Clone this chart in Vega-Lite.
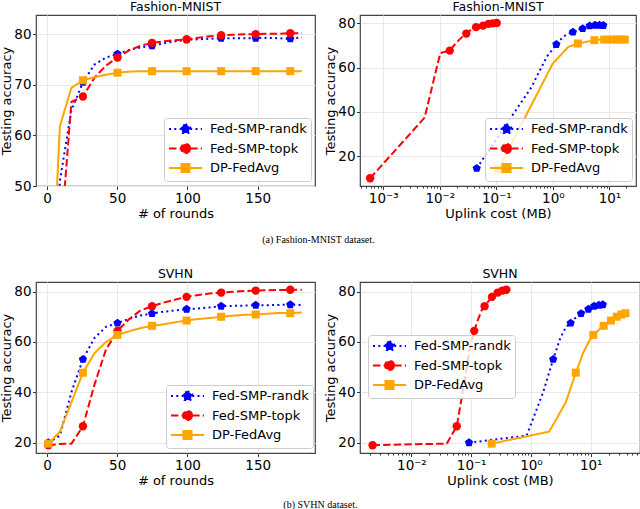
{
  "$schema": "https://vega.github.io/schema/vega-lite/v6.json",
  "background": "white",
  "padding": {"left": 0, "top": 0, "right": 0, "bottom": 0},
  "datasets": {
    "pts": [
      {"ds":"F","m":"Fed-SMP-randk","r":1,"c":0.045,"a":14.5,"k":1},
      {"ds":"F","m":"Fed-SMP-randk","r":9.2,"c":0.414,"a":51,"k":0},
      {"ds":"F","m":"Fed-SMP-randk","r":17.4,"c":0.783,"a":65,"k":0},
      {"ds":"F","m":"Fed-SMP-randk","r":25.6,"c":1.152,"a":70.5,"k":1},
      {"ds":"F","m":"Fed-SMP-randk","r":33.8,"c":1.521,"a":74,"k":0},
      {"ds":"F","m":"Fed-SMP-randk","r":42,"c":1.89,"a":75.4,"k":0},
      {"ds":"F","m":"Fed-SMP-randk","r":50.2,"c":2.259,"a":76.1,"k":1},
      {"ds":"F","m":"Fed-SMP-randk","r":58.4,"c":2.628,"a":76.9,"k":0},
      {"ds":"F","m":"Fed-SMP-randk","r":66.6,"c":2.997,"a":77.4,"k":0},
      {"ds":"F","m":"Fed-SMP-randk","r":74.8,"c":3.366,"a":77.7,"k":1},
      {"ds":"F","m":"Fed-SMP-randk","r":83,"c":3.735,"a":78.2,"k":0},
      {"ds":"F","m":"Fed-SMP-randk","r":91.2,"c":4.104,"a":78.6,"k":0},
      {"ds":"F","m":"Fed-SMP-randk","r":99.4,"c":4.473,"a":78.9,"k":1},
      {"ds":"F","m":"Fed-SMP-randk","r":107.6,"c":4.842,"a":79.0,"k":0},
      {"ds":"F","m":"Fed-SMP-randk","r":115.8,"c":5.211,"a":79.1,"k":0},
      {"ds":"F","m":"Fed-SMP-randk","r":124,"c":5.58,"a":79.2,"k":1},
      {"ds":"F","m":"Fed-SMP-randk","r":132.2,"c":5.949,"a":79.2,"k":0},
      {"ds":"F","m":"Fed-SMP-randk","r":140.4,"c":6.318,"a":79.2,"k":0},
      {"ds":"F","m":"Fed-SMP-randk","r":148.6,"c":6.687,"a":79.2,"k":1},
      {"ds":"F","m":"Fed-SMP-randk","r":156.8,"c":7.056,"a":79.3,"k":0},
      {"ds":"F","m":"Fed-SMP-randk","r":165,"c":7.425,"a":79.2,"k":0},
      {"ds":"F","m":"Fed-SMP-randk","r":173.2,"c":7.794,"a":79.1,"k":1},
      {"ds":"F","m":"Fed-SMP-randk","r":181.4,"c":8.163,"a":79.4,"k":0},

      {"ds":"F","m":"Fed-SMP-topk","r":1,"c":0.000587,"a":10,"k":1},
      {"ds":"F","m":"Fed-SMP-topk","r":9.2,"c":0.0054,"a":37.4,"k":0},
      {"ds":"F","m":"Fed-SMP-topk","r":17.4,"c":0.01021,"a":66.6,"k":0},
      {"ds":"F","m":"Fed-SMP-topk","r":25.6,"c":0.01503,"a":67.7,"k":1},
      {"ds":"F","m":"Fed-SMP-topk","r":33.8,"c":0.01984,"a":71.4,"k":0},
      {"ds":"F","m":"Fed-SMP-topk","r":42,"c":0.02465,"a":73.8,"k":0},
      {"ds":"F","m":"Fed-SMP-topk","r":50.2,"c":0.02947,"a":75.4,"k":1},
      {"ds":"F","m":"Fed-SMP-topk","r":58.4,"c":0.03428,"a":76.8,"k":0},
      {"ds":"F","m":"Fed-SMP-topk","r":66.6,"c":0.03909,"a":77.7,"k":0},
      {"ds":"F","m":"Fed-SMP-topk","r":74.8,"c":0.04391,"a":78.3,"k":1},
      {"ds":"F","m":"Fed-SMP-topk","r":83,"c":0.04872,"a":78.6,"k":0},
      {"ds":"F","m":"Fed-SMP-topk","r":91.2,"c":0.05353,"a":78.8,"k":0},
      {"ds":"F","m":"Fed-SMP-topk","r":99.4,"c":0.05835,"a":79.0,"k":1},
      {"ds":"F","m":"Fed-SMP-topk","r":107.6,"c":0.06316,"a":79.3,"k":0},
      {"ds":"F","m":"Fed-SMP-topk","r":115.8,"c":0.06797,"a":79.6,"k":0},
      {"ds":"F","m":"Fed-SMP-topk","r":124,"c":0.07279,"a":79.8,"k":1},
      {"ds":"F","m":"Fed-SMP-topk","r":132.2,"c":0.0776,"a":79.9,"k":0},
      {"ds":"F","m":"Fed-SMP-topk","r":140.4,"c":0.08241,"a":80.0,"k":0},
      {"ds":"F","m":"Fed-SMP-topk","r":148.6,"c":0.08723,"a":80.0,"k":1},
      {"ds":"F","m":"Fed-SMP-topk","r":156.8,"c":0.09204,"a":80.1,"k":0},
      {"ds":"F","m":"Fed-SMP-topk","r":165,"c":0.09686,"a":80.1,"k":0},
      {"ds":"F","m":"Fed-SMP-topk","r":173.2,"c":0.10167,"a":80.2,"k":1},
      {"ds":"F","m":"Fed-SMP-topk","r":181.4,"c":0.10648,"a":80.2,"k":0},

      {"ds":"F","m":"DP-FedAvg","r":1,"c":0.108,"a":14,"k":1},
      {"ds":"F","m":"DP-FedAvg","r":9.2,"c":0.9936,"a":61.8,"k":0},
      {"ds":"F","m":"DP-FedAvg","r":17.4,"c":1.879,"a":69.4,"k":0},
      {"ds":"F","m":"DP-FedAvg","r":25.6,"c":2.765,"a":70.9,"k":1},
      {"ds":"F","m":"DP-FedAvg","r":33.8,"c":3.65,"a":71.5,"k":0},
      {"ds":"F","m":"DP-FedAvg","r":42,"c":4.536,"a":72.0,"k":0},
      {"ds":"F","m":"DP-FedAvg","r":50.2,"c":5.422,"a":72.4,"k":1},
      {"ds":"F","m":"DP-FedAvg","r":58.4,"c":6.307,"a":72.6,"k":0},
      {"ds":"F","m":"DP-FedAvg","r":66.6,"c":7.193,"a":72.7,"k":0},
      {"ds":"F","m":"DP-FedAvg","r":74.8,"c":8.078,"a":72.7,"k":1},
      {"ds":"F","m":"DP-FedAvg","r":83,"c":8.964,"a":72.7,"k":0},
      {"ds":"F","m":"DP-FedAvg","r":91.2,"c":9.85,"a":72.7,"k":0},
      {"ds":"F","m":"DP-FedAvg","r":99.4,"c":10.735,"a":72.7,"k":1},
      {"ds":"F","m":"DP-FedAvg","r":107.6,"c":11.621,"a":72.7,"k":0},
      {"ds":"F","m":"DP-FedAvg","r":115.8,"c":12.506,"a":72.7,"k":0},
      {"ds":"F","m":"DP-FedAvg","r":124,"c":13.392,"a":72.7,"k":1},
      {"ds":"F","m":"DP-FedAvg","r":132.2,"c":14.278,"a":72.7,"k":0},
      {"ds":"F","m":"DP-FedAvg","r":140.4,"c":15.163,"a":72.7,"k":0},
      {"ds":"F","m":"DP-FedAvg","r":148.6,"c":16.049,"a":72.7,"k":1},
      {"ds":"F","m":"DP-FedAvg","r":156.8,"c":16.934,"a":72.7,"k":0},
      {"ds":"F","m":"DP-FedAvg","r":165,"c":17.82,"a":72.7,"k":0},
      {"ds":"F","m":"DP-FedAvg","r":173.2,"c":18.706,"a":72.7,"k":1},
      {"ds":"F","m":"DP-FedAvg","r":181.4,"c":19.591,"a":72.7,"k":0},

      {"ds":"S","m":"Fed-SMP-randk","r":1,"c":0.092,"a":20,"k":1},
      {"ds":"S","m":"Fed-SMP-randk","r":9.2,"c":0.8464,"a":22.8,"k":0},
      {"ds":"S","m":"Fed-SMP-randk","r":17.4,"c":1.6008,"a":40,"k":0},
      {"ds":"S","m":"Fed-SMP-randk","r":25.6,"c":2.3552,"a":53.1,"k":1},
      {"ds":"S","m":"Fed-SMP-randk","r":33.8,"c":3.1096,"a":61.6,"k":0},
      {"ds":"S","m":"Fed-SMP-randk","r":42,"c":3.864,"a":66,"k":0},
      {"ds":"S","m":"Fed-SMP-randk","r":50.2,"c":4.6184,"a":67.5,"k":1},
      {"ds":"S","m":"Fed-SMP-randk","r":58.4,"c":5.3728,"a":69.2,"k":0},
      {"ds":"S","m":"Fed-SMP-randk","r":66.6,"c":6.1272,"a":70.5,"k":0},
      {"ds":"S","m":"Fed-SMP-randk","r":74.8,"c":6.8816,"a":71.3,"k":1},
      {"ds":"S","m":"Fed-SMP-randk","r":83,"c":7.636,"a":72,"k":0},
      {"ds":"S","m":"Fed-SMP-randk","r":91.2,"c":8.3904,"a":72.5,"k":0},
      {"ds":"S","m":"Fed-SMP-randk","r":99.4,"c":9.1448,"a":73.0,"k":1},
      {"ds":"S","m":"Fed-SMP-randk","r":107.6,"c":9.8992,"a":73.3,"k":0},
      {"ds":"S","m":"Fed-SMP-randk","r":115.8,"c":10.6536,"a":73.7,"k":0},
      {"ds":"S","m":"Fed-SMP-randk","r":124,"c":11.408,"a":74.2,"k":1},
      {"ds":"S","m":"Fed-SMP-randk","r":132.2,"c":12.1624,"a":74.3,"k":0},
      {"ds":"S","m":"Fed-SMP-randk","r":140.4,"c":12.9168,"a":74.4,"k":0},
      {"ds":"S","m":"Fed-SMP-randk","r":148.6,"c":13.6712,"a":74.6,"k":1},
      {"ds":"S","m":"Fed-SMP-randk","r":156.8,"c":14.4256,"a":74.6,"k":0},
      {"ds":"S","m":"Fed-SMP-randk","r":165,"c":15.18,"a":74.7,"k":0},
      {"ds":"S","m":"Fed-SMP-randk","r":173.2,"c":15.9344,"a":74.8,"k":1},
      {"ds":"S","m":"Fed-SMP-randk","r":181.4,"c":16.6888,"a":74.7,"k":0},

      {"ds":"S","m":"Fed-SMP-topk","r":1,"c":0.00224,"a":19,"k":1},
      {"ds":"S","m":"Fed-SMP-topk","r":9.2,"c":0.020608,"a":19.5,"k":0},
      {"ds":"S","m":"Fed-SMP-topk","r":17.4,"c":0.038976,"a":19.6,"k":0},
      {"ds":"S","m":"Fed-SMP-topk","r":25.6,"c":0.057344,"a":26.5,"k":1},
      {"ds":"S","m":"Fed-SMP-topk","r":33.8,"c":0.075712,"a":43,"k":0},
      {"ds":"S","m":"Fed-SMP-topk","r":42,"c":0.09408,"a":57,"k":0},
      {"ds":"S","m":"Fed-SMP-topk","r":50.2,"c":0.112448,"a":64.4,"k":1},
      {"ds":"S","m":"Fed-SMP-topk","r":58.4,"c":0.130816,"a":69,"k":0},
      {"ds":"S","m":"Fed-SMP-topk","r":66.6,"c":0.149184,"a":72.5,"k":0},
      {"ds":"S","m":"Fed-SMP-topk","r":74.8,"c":0.167552,"a":74.2,"k":1},
      {"ds":"S","m":"Fed-SMP-topk","r":83,"c":0.18592,"a":75.6,"k":0},
      {"ds":"S","m":"Fed-SMP-topk","r":91.2,"c":0.204288,"a":76.8,"k":0},
      {"ds":"S","m":"Fed-SMP-topk","r":99.4,"c":0.222656,"a":77.9,"k":1},
      {"ds":"S","m":"Fed-SMP-topk","r":107.6,"c":0.241024,"a":78.6,"k":0},
      {"ds":"S","m":"Fed-SMP-topk","r":115.8,"c":0.259392,"a":79.2,"k":0},
      {"ds":"S","m":"Fed-SMP-topk","r":124,"c":0.27776,"a":79.6,"k":1},
      {"ds":"S","m":"Fed-SMP-topk","r":132.2,"c":0.296128,"a":79.9,"k":0},
      {"ds":"S","m":"Fed-SMP-topk","r":140.4,"c":0.314496,"a":80.2,"k":0},
      {"ds":"S","m":"Fed-SMP-topk","r":148.6,"c":0.332864,"a":80.4,"k":1},
      {"ds":"S","m":"Fed-SMP-topk","r":156.8,"c":0.351232,"a":80.5,"k":0},
      {"ds":"S","m":"Fed-SMP-topk","r":165,"c":0.3696,"a":80.6,"k":0},
      {"ds":"S","m":"Fed-SMP-topk","r":173.2,"c":0.387968,"a":80.7,"k":1},
      {"ds":"S","m":"Fed-SMP-topk","r":181.4,"c":0.406336,"a":80.7,"k":0},

      {"ds":"S","m":"DP-FedAvg","r":1,"c":0.22,"a":19.6,"k":1},
      {"ds":"S","m":"DP-FedAvg","r":9.2,"c":2.024,"a":24.4,"k":0},
      {"ds":"S","m":"DP-FedAvg","r":17.4,"c":3.828,"a":36,"k":0},
      {"ds":"S","m":"DP-FedAvg","r":25.6,"c":5.632,"a":47.8,"k":1},
      {"ds":"S","m":"DP-FedAvg","r":33.8,"c":7.436,"a":55.5,"k":0},
      {"ds":"S","m":"DP-FedAvg","r":42,"c":9.24,"a":60,"k":0},
      {"ds":"S","m":"DP-FedAvg","r":50.2,"c":11.044,"a":62.8,"k":1},
      {"ds":"S","m":"DP-FedAvg","r":58.4,"c":12.848,"a":64.2,"k":0},
      {"ds":"S","m":"DP-FedAvg","r":66.6,"c":14.652,"a":65.5,"k":0},
      {"ds":"S","m":"DP-FedAvg","r":74.8,"c":16.456,"a":66.4,"k":1},
      {"ds":"S","m":"DP-FedAvg","r":83,"c":18.26,"a":67,"k":0},
      {"ds":"S","m":"DP-FedAvg","r":91.2,"c":20.064,"a":67.8,"k":0},
      {"ds":"S","m":"DP-FedAvg","r":99.4,"c":21.868,"a":68.5,"k":1},
      {"ds":"S","m":"DP-FedAvg","r":107.6,"c":23.672,"a":69.1,"k":0},
      {"ds":"S","m":"DP-FedAvg","r":115.8,"c":25.476,"a":69.5,"k":0},
      {"ds":"S","m":"DP-FedAvg","r":124,"c":27.28,"a":70,"k":1},
      {"ds":"S","m":"DP-FedAvg","r":132.2,"c":29.084,"a":70.4,"k":0},
      {"ds":"S","m":"DP-FedAvg","r":140.4,"c":30.888,"a":70.8,"k":0},
      {"ds":"S","m":"DP-FedAvg","r":148.6,"c":32.692,"a":70.9,"k":1},
      {"ds":"S","m":"DP-FedAvg","r":156.8,"c":34.496,"a":71.2,"k":0},
      {"ds":"S","m":"DP-FedAvg","r":165,"c":36.3,"a":71.5,"k":0},
      {"ds":"S","m":"DP-FedAvg","r":173.2,"c":38.104,"a":71.4,"k":1},
      {"ds":"S","m":"DP-FedAvg","r":181.4,"c":39.908,"a":71.7,"k":0}
    ]
  },
  "data": {"name": "pts"},
  "spacing": 21,
  "resolve": {"scale": {"color": "independent", "strokeDash": "independent"}},
  "vconcat": [
    {
      "spacing": 8,
      "resolve": {"scale": {"color": "independent", "strokeDash": "independent"}},
      "title": {"text": "(a) Fashion-MNIST dataset.", "orient": "bottom", "anchor": "middle", "font": "Liberation Serif", "fontSize": 10, "fontWeight": "normal", "offset": 14},
      "hconcat": [
        {
          "width": 279, "height": 171,
          "title": "Fashion-MNIST",
          "transform": [{"filter": "datum.ds == 'F'"}],
          "encoding": {
            "x": {"field": "r", "type": "quantitative", "scale": {"domain": [-7.8, 190.8], "nice": false, "zero": false}, "axis": {"values": [0, 50, 100, 150], "title": "# of rounds"}},
            "y": {"field": "a", "type": "quantitative", "scale": {"domain": [50, 83.8], "nice": false, "zero": false}, "axis": {"values": [50, 60, 70, 80], "title": "Testing accuracy"}},
            "color": {"field": "m", "type": "nominal", "scale": {"domain": ["Fed-SMP-randk", "Fed-SMP-topk", "DP-FedAvg"], "range": ["blue", "red", "orange"]},
              "legend": {"orient": "none", "legendX": 128, "legendY": 103, "title": null,
                "encode": {"symbols": {"update": {
                  "shape": {"signal": "datum.value === 'Fed-SMP-randk' ? 'M-1,0L4.5,0M1.75,-0.833L2.542,-0.257L2.24,0.674L1.26,0.674L0.958,-0.257Z' : datum.value === 'Fed-SMP-topk' ? 'M-1,0L4.5,0M2.5,0A0.75,0.75,0,1,1,1,0A0.75,0.75,0,1,1,2.5,0Z' : 'M-1,0L4.5,0M1.083,-0.667L2.417,-0.667L2.417,0.667L1.083,0.667Z'"}
                }}}}},
            "strokeDash": {"field": "m", "type": "nominal", "scale": {"domain": ["Fed-SMP-randk", "Fed-SMP-topk", "DP-FedAvg"], "range": [[2, 3.3], [7.4, 3.2], [1, 0]]}}
          },
          "layer": [
            {"mark": {"type": "line", "strokeWidth": 2, "clip": true}},
            {"transform": [{"filter": "datum.k == 1 && datum.m == 'Fed-SMP-randk'"}], "mark": {"type": "point", "shape": "M0,-1L0.951,-0.309L0.588,0.809L-0.588,0.809L-0.951,-0.309Z", "filled": true, "opacity": 1, "size": 75, "clip": true}},
            {"transform": [{"filter": "datum.k == 1 && datum.m == 'Fed-SMP-topk'"}], "mark": {"type": "point", "shape": "circle", "filled": true, "opacity": 1, "size": 70, "clip": true}},
            {"transform": [{"filter": "datum.k == 1 && datum.m == 'DP-FedAvg'"}], "mark": {"type": "point", "shape": "square", "filled": true, "opacity": 1, "size": 64, "clip": true}}
          ]
        },
        {
          "width": 276, "height": 171,
          "title": "Fashion-MNIST",
          "transform": [{"filter": "datum.ds == 'F'"}],
          "encoding": {
            "x": {"field": "c", "type": "quantitative", "scale": {"type": "log", "domain": [0.000389, 29.5], "nice": false},
              "axis": {"title": "Uplink cost (MB)", "labelOverlap": false,
                "values": [0.0004, 0.0005, 0.0006, 0.0007, 0.0008, 0.0009, 0.001, 0.002, 0.003, 0.004, 0.005, 0.006, 0.007, 0.008, 0.009, 0.01, 0.02, 0.03, 0.04, 0.05, 0.06, 0.07, 0.08, 0.09, 0.1, 0.2, 0.3, 0.4, 0.5, 0.6, 0.7, 0.8, 0.9, 1, 2, 3, 4, 5, 6, 7, 8, 9, 10, 20],
                "labelExpr": "datum.value == 0.001 ? '10⁻³' : datum.value == 0.01 ? '10⁻²' : datum.value == 0.1 ? '10⁻¹' : datum.value == 1 ? '10⁰' : datum.value == 10 ? '10¹' : ''",
                "tickSize": {"condition": {"test": "datum.value == 0.001 || datum.value == 0.01 || datum.value == 0.1 || datum.value == 1 || datum.value == 10", "value": 3.5}, "value": 2},
                "gridOpacity": {"condition": {"test": "datum.value == 0.001 || datum.value == 0.01 || datum.value == 0.1 || datum.value == 1 || datum.value == 10", "value": 1}, "value": 0}}},
            "y": {"field": "a", "type": "quantitative", "scale": {"domain": [6.5, 83.8], "nice": false, "zero": false}, "axis": {"values": [20, 40, 60, 80], "title": "Testing accuracy"}},
            "color": {"field": "m", "type": "nominal", "scale": {"domain": ["Fed-SMP-randk", "Fed-SMP-topk", "DP-FedAvg"], "range": ["blue", "red", "orange"]},
              "legend": {"orient": "none", "legendX": 125, "legendY": 103, "title": null,
                "encode": {"symbols": {"update": {
                  "shape": {"signal": "datum.value === 'Fed-SMP-randk' ? 'M-1,0L4.5,0M1.75,-0.833L2.542,-0.257L2.24,0.674L1.26,0.674L0.958,-0.257Z' : datum.value === 'Fed-SMP-topk' ? 'M-1,0L4.5,0M2.5,0A0.75,0.75,0,1,1,1,0A0.75,0.75,0,1,1,2.5,0Z' : 'M-1,0L4.5,0M1.083,-0.667L2.417,-0.667L2.417,0.667L1.083,0.667Z'"}
                }}}}},
            "strokeDash": {"field": "m", "type": "nominal", "scale": {"domain": ["Fed-SMP-randk", "Fed-SMP-topk", "DP-FedAvg"], "range": [[2, 3.3], [7.4, 3.2], [1, 0]]}}
          },
          "layer": [
            {"mark": {"type": "line", "strokeWidth": 2, "clip": true}},
            {"transform": [{"filter": "datum.k == 1 && datum.m == 'Fed-SMP-randk'"}], "mark": {"type": "point", "shape": "M0,-1L0.951,-0.309L0.588,0.809L-0.588,0.809L-0.951,-0.309Z", "filled": true, "opacity": 1, "size": 75, "clip": true}},
            {"transform": [{"filter": "datum.k == 1 && datum.m == 'Fed-SMP-topk'"}], "mark": {"type": "point", "shape": "circle", "filled": true, "opacity": 1, "size": 70, "clip": true}},
            {"transform": [{"filter": "datum.k == 1 && datum.m == 'DP-FedAvg'"}], "mark": {"type": "point", "shape": "square", "filled": true, "opacity": 1, "size": 64, "clip": true}}
          ]
        }
      ]
    },
    {
      "spacing": 8,
      "resolve": {"scale": {"color": "independent", "strokeDash": "independent"}},
      "title": {"text": "(b) SVHN dataset.", "orient": "bottom", "anchor": "middle", "font": "Liberation Serif", "fontSize": 10, "fontWeight": "normal", "offset": 12},
      "hconcat": [
        {
          "width": 279, "height": 171,
          "title": "SVHN",
          "transform": [{"filter": "datum.ds == 'S'"}],
          "encoding": {
            "x": {"field": "r", "type": "quantitative", "scale": {"domain": [-7.8, 190.8], "nice": false, "zero": false}, "axis": {"values": [0, 50, 100, 150], "title": "# of rounds"}},
            "y": {"field": "a", "type": "quantitative", "scale": {"domain": [15.9, 83.8], "nice": false, "zero": false}, "axis": {"values": [20, 40, 60, 80], "title": "Testing accuracy"}},
            "color": {"field": "m", "type": "nominal", "scale": {"domain": ["Fed-SMP-randk", "Fed-SMP-topk", "DP-FedAvg"], "range": ["blue", "red", "orange"]},
              "legend": {"orient": "none", "legendX": 130, "legendY": 103, "title": null,
                "encode": {"symbols": {"update": {
                  "shape": {"signal": "datum.value === 'Fed-SMP-randk' ? 'M-1,0L4.5,0M1.75,-0.833L2.542,-0.257L2.24,0.674L1.26,0.674L0.958,-0.257Z' : datum.value === 'Fed-SMP-topk' ? 'M-1,0L4.5,0M2.5,0A0.75,0.75,0,1,1,1,0A0.75,0.75,0,1,1,2.5,0Z' : 'M-1,0L4.5,0M1.083,-0.667L2.417,-0.667L2.417,0.667L1.083,0.667Z'"}
                }}}}},
            "strokeDash": {"field": "m", "type": "nominal", "scale": {"domain": ["Fed-SMP-randk", "Fed-SMP-topk", "DP-FedAvg"], "range": [[2, 3.3], [7.4, 3.2], [1, 0]]}}
          },
          "layer": [
            {"mark": {"type": "line", "strokeWidth": 2, "clip": true}},
            {"transform": [{"filter": "datum.k == 1 && datum.m == 'Fed-SMP-randk'"}], "mark": {"type": "point", "shape": "M0,-1L0.951,-0.309L0.588,0.809L-0.588,0.809L-0.951,-0.309Z", "filled": true, "opacity": 1, "size": 75, "clip": true}},
            {"transform": [{"filter": "datum.k == 1 && datum.m == 'Fed-SMP-topk'"}], "mark": {"type": "point", "shape": "circle", "filled": true, "opacity": 1, "size": 70, "clip": true}},
            {"transform": [{"filter": "datum.k == 1 && datum.m == 'DP-FedAvg'"}], "mark": {"type": "point", "shape": "square", "filled": true, "opacity": 1, "size": 64, "clip": true}}
          ]
        },
        {
          "width": 280, "height": 171,
          "title": "SVHN",
          "transform": [{"filter": "datum.ds == 'S'"}],
          "encoding": {
            "x": {"field": "c", "type": "quantitative", "scale": {"type": "log", "domain": [0.00138, 66.8], "nice": false},
              "axis": {"title": "Uplink cost (MB)", "labelOverlap": false,
                "values": [0.002, 0.003, 0.004, 0.005, 0.006, 0.007, 0.008, 0.009, 0.01, 0.02, 0.03, 0.04, 0.05, 0.06, 0.07, 0.08, 0.09, 0.1, 0.2, 0.3, 0.4, 0.5, 0.6, 0.7, 0.8, 0.9, 1, 2, 3, 4, 5, 6, 7, 8, 9, 10, 20, 30, 40, 50, 60],
                "labelExpr": "datum.value == 0.01 ? '10⁻²' : datum.value == 0.1 ? '10⁻¹' : datum.value == 1 ? '10⁰' : datum.value == 10 ? '10¹' : ''",
                "tickSize": {"condition": {"test": "datum.value == 0.01 || datum.value == 0.1 || datum.value == 1 || datum.value == 10", "value": 3.5}, "value": 2},
                "gridOpacity": {"condition": {"test": "datum.value == 0.01 || datum.value == 0.1 || datum.value == 1 || datum.value == 10", "value": 1}, "value": 0}}},
            "y": {"field": "a", "type": "quantitative", "scale": {"domain": [15.9, 83.8], "nice": false, "zero": false}, "axis": {"values": [20, 40, 60, 80], "title": "Testing accuracy"}},
            "color": {"field": "m", "type": "nominal", "scale": {"domain": ["Fed-SMP-randk", "Fed-SMP-topk", "DP-FedAvg"], "range": ["blue", "red", "orange"]},
              "legend": {"orient": "none", "legendX": 8, "legendY": 53, "title": null,
                "encode": {"symbols": {"update": {
                  "shape": {"signal": "datum.value === 'Fed-SMP-randk' ? 'M-1,0L4.5,0M1.75,-0.833L2.542,-0.257L2.24,0.674L1.26,0.674L0.958,-0.257Z' : datum.value === 'Fed-SMP-topk' ? 'M-1,0L4.5,0M2.5,0A0.75,0.75,0,1,1,1,0A0.75,0.75,0,1,1,2.5,0Z' : 'M-1,0L4.5,0M1.083,-0.667L2.417,-0.667L2.417,0.667L1.083,0.667Z'"}
                }}}}},
            "strokeDash": {"field": "m", "type": "nominal", "scale": {"domain": ["Fed-SMP-randk", "Fed-SMP-topk", "DP-FedAvg"], "range": [[2, 3.3], [7.4, 3.2], [1, 0]]}}
          },
          "layer": [
            {"mark": {"type": "line", "strokeWidth": 2, "clip": true}},
            {"transform": [{"filter": "datum.k == 1 && datum.m == 'Fed-SMP-randk'"}], "mark": {"type": "point", "shape": "M0,-1L0.951,-0.309L0.588,0.809L-0.588,0.809L-0.951,-0.309Z", "filled": true, "opacity": 1, "size": 75, "clip": true}},
            {"transform": [{"filter": "datum.k == 1 && datum.m == 'Fed-SMP-topk'"}], "mark": {"type": "point", "shape": "circle", "filled": true, "opacity": 1, "size": 70, "clip": true}},
            {"transform": [{"filter": "datum.k == 1 && datum.m == 'DP-FedAvg'"}], "mark": {"type": "point", "shape": "square", "filled": true, "opacity": 1, "size": 64, "clip": true}}
          ]
        }
      ]
    }
  ],
  "config": {
    "view": {"stroke": "#444", "strokeWidth": 1.2},
    "title": {"font": "DejaVu Sans", "fontSize": 12.5, "fontWeight": "normal", "color": "black", "offset": 1.5},
    "axis": {"domain": false, "tickColor": "#333", "tickSize": 3.5, "labelFont": "DejaVu Sans", "labelFontSize": 13.5, "labelColor": "black", "labelPadding": 1.5, "titleFont": "DejaVu Sans", "titleFontSize": 13, "titleFontWeight": "normal", "titleColor": "black", "titlePadding": 0, "gridColor": "#e8e8e8"},
    "axisX": {"titlePadding": 3},
    "legend": {"labelFont": "DejaVu Sans", "labelFontSize": 13, "labelColor": "black", "fillColor": "rgba(255,255,255,0.8)", "strokeColor": "#cccccc", "cornerRadius": 3, "padding": 4, "rowPadding": 1.5, "labelOffset": 28, "symbolSize": 144, "symbolStrokeWidth": 2, "symbolOpacity": 1}
  }
}
